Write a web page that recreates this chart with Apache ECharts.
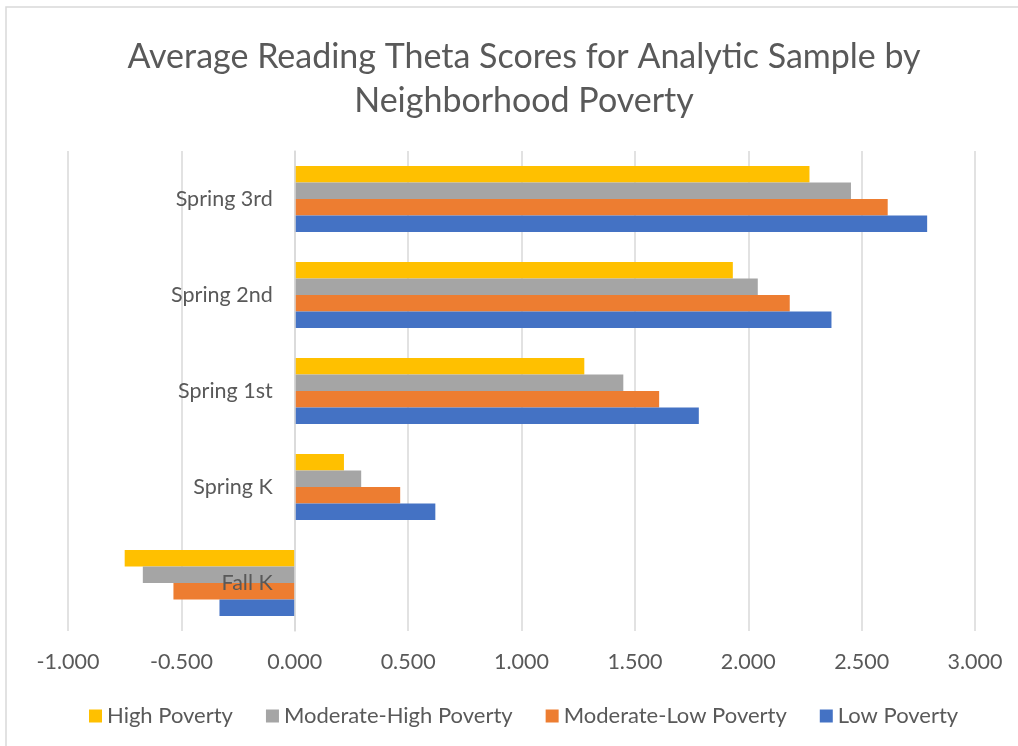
<!DOCTYPE html>
<html>
<head>
<meta charset="utf-8">
<script src="https://cdn.jsdelivr.net/npm/echarts@6/dist/echarts.min.js"></script>
<style>
html,body{margin:0;padding:0;background:#fff;}
#chart{width:1018px;height:746px;}
</style>
</head>
<body>
<div id="chart"></div>
<script>
const categories = ["Fall K", "Spring K", "Spring 1st", "Spring 2nd", "Spring 3rd"];
const lowPoverty = [-0.332, 0.620, 1.782, 2.367, 2.789];
const modLowPoverty = [-0.535, 0.465, 1.607, 2.183, 2.615];
const modHighPoverty = [-0.670, 0.293, 1.449, 2.042, 2.453];
const highPoverty = [-0.750, 0.217, 1.277, 1.932, 2.270];
const xTicks = { min: -1, max: 3, interval: 0.5 };
const legendOrder = ["High Poverty", "Moderate-High Poverty", "Moderate-Low Poverty", "Low Poverty"];

const font = "Lato, 'Liberation Sans', sans-serif";
const textColor = "#595959";

const gridLeft = 68, gridRight = 43, chartW = 1018;
const plotW = chartW - gridLeft - gridRight;
const zeroOffset = plotW * (0 - xTicks.min) / (xTicks.max - xTicks.min);

const chart = echarts.init(document.getElementById('chart'), null, { renderer: 'canvas' });

function barSeries(name, data, color) {
  return {
    name: name,
    type: 'bar',
    data: data,
    barGap: '0%',
    barCategoryGap: '31%',
    itemStyle: { color: color },
    emphasis: { disabled: true }
  };
}

chart.setOption({
  animation: false,
  backgroundColor: '#ffffff',
  textStyle: { fontFamily: font },
  graphic: [{
    type: 'rect',
    shape: { x: 6, y: 7, width: 1100, height: 800 },
    style: { fill: 'none', stroke: '#d9d9d9', lineWidth: 1.5 },
    silent: true,
    z: -10
  }],
  title: {
    text: 'Average Reading Theta Scores for Analytic Sample by\nNeighborhood Poverty',
    left: 519,
    textAlign: 'center',
    top: 30,
    textStyle: {
      fontFamily: font,
      fontSize: 34,
      fontWeight: 'normal',
      color: textColor,
      lineHeight: 44
    }
  },
  legend: {
    data: legendOrder,
    top: 700,
    left: 84,
    itemWidth: 13,
    itemHeight: 13,
    itemGap: 33,
    icon: 'rect',
    textStyle: { fontFamily: font, fontSize: 22, color: textColor }
  },
  grid: {
    left: gridLeft,
    right: gridRight,
    top: 151,
    bottom: 115,
    containLabel: false,
    outerBoundsMode: 'none'
  },
  xAxis: {
    type: 'value',
    min: xTicks.min,
    max: xTicks.max,
    interval: xTicks.interval,
    axisLine: { show: false },
    axisTick: { show: false },
    splitLine: { show: true, lineStyle: { color: '#d9d9d9', width: 1.5 } },
    axisLabel: {
      fontFamily: font,
      fontSize: 21.5,
      color: textColor,
      margin: 20,
      formatter: v => v.toFixed(3)
    }
  },
  yAxis: {
    type: 'category',
    data: categories,
    position: 'left',
    offset: -zeroOffset,
    z: 10,
    axisLine: { show: true, onZero: false, lineStyle: { color: '#d9d9d9', width: 1.5 } },
    axisTick: { show: false },
    axisLabel: {
      fontFamily: font,
      fontSize: 21.5,
      color: textColor,
      margin: 22
    }
  },
  series: [
    barSeries('High Poverty', highPoverty, '#FFC000'),
    barSeries('Moderate-High Poverty', modHighPoverty, '#A5A5A5'),
    barSeries('Moderate-Low Poverty', modLowPoverty, '#ED7D31'),
    barSeries('Low Poverty', lowPoverty, '#4472C4')
  ]
});
</script>
</body>
</html>
